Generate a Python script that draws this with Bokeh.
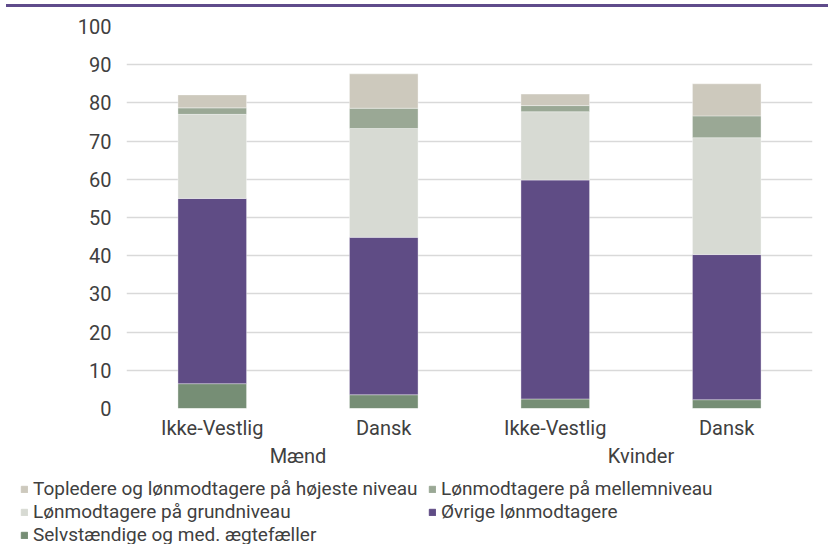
from bokeh.plotting import figure
from bokeh.models import (ColumnDataSource, FactorRange, Range1d, Legend, LegendItem,
                          Div, SingleIntervalTicker)
from bokeh.layouts import column
from bokeh.embed import file_html
from bokeh.resources import INLINE

groups = ["Mænd", "Mænd", "Kvinder", "Kvinder"]
origins = ["Ikke-Vestlig", "Dansk", "Ikke-Vestlig", "Dansk"]
selvstaendige = [6.5, 3.6, 2.5, 2.3]
oevrige = [48.5, 41.2, 57.3, 38.0]
grundniveau = [22.0, 28.5, 17.9, 30.6]
mellemniveau = [1.7, 5.3, 1.6, 5.7]
topledere = [3.4, 9.0, 3.0, 8.4]

series = ["selv", "oevrige", "grund", "mellem", "top"]
labels = {
    "top": "Topledere og lønmodtagere på højeste niveau",
    "mellem": "Lønmodtagere på mellemniveau",
    "grund": "Lønmodtagere på grundniveau",
    "oevrige": "Øvrige lønmodtagere",
    "selv": "Selvstændige og med. ægtefæller",
}
colors = ["#768e75", "#5f4c85", "#d7dad3", "#9aa895", "#cdc9bd"]
cmap = dict(zip(series, colors))

FONT = "Roboto"
TXT = "#404040"

factors = list(zip(groups, origins))
source = ColumnDataSource(dict(x=factors, selv=selvstaendige, oevrige=oevrige,
                               grund=grundniveau, mellem=mellemniveau, top=topledere))

p = figure(x_range=FactorRange(*factors, range_padding=0, group_padding=0, factor_padding=0),
           y_range=Range1d(0, 100), width=828, height=471,
           output_backend="svg", toolbar_location=None, margin=0,
           min_border_left=126, min_border_right=16, min_border_top=19, min_border_bottom=70)
p.outline_line_color = None

p.vbar_stack(series, x="x", width=0.4, source=source, color=colors,
             line_color="white", line_width=0.6, line_alpha=0.6)

p.xgrid.grid_line_color = None
p.ygrid.grid_line_color = "#d9d9d9"
p.ygrid.grid_line_width = 1.5
p.yaxis.ticker = SingleIntervalTicker(interval=10)
p.yaxis.axis_line_color = None
p.yaxis.major_tick_line_color = None
p.yaxis.minor_tick_line_color = None
p.yaxis.major_tick_out = 0
p.yaxis.major_label_text_font = FONT
p.yaxis.major_label_text_font_size = "20px"
p.yaxis.major_label_text_color = TXT
p.yaxis.major_label_standoff = 11

xa = p.xaxis[0]
xa.axis_line_color = None
xa.major_tick_line_color = None
xa.minor_tick_line_color = None
xa.major_label_text_font = FONT
xa.major_label_text_font_size = "20px"
xa.major_label_text_color = TXT
xa.group_text_font = FONT
xa.group_text_font_size = "20px"
xa.group_text_color = TXT
xa.group_text_font_style = "normal"
xa.major_label_standoff = 1
try:
    xa.separator_line_color = None
except Exception:
    pass

# legend figure
p2 = figure(width=828, height=66, x_range=Range1d(0, 1), y_range=Range1d(0, 1),
            output_backend="svg", toolbar_location=None, margin=0,
            x_axis_type=None, y_axis_type=None,
            min_border_left=0, min_border_right=0, min_border_top=0, min_border_bottom=0)
p2.frame_align = False
p2.outline_line_color = None
p2.grid.visible = False
order = ["top", "mellem", "grund", "oevrige", "selv"]
items = []
for k in order:
    r = p2.vbar(x=[-10], top=[0], width=0.1, color=cmap[k])
    items.append(LegendItem(label=labels[k], renderers=[r]))
legend = Legend(items=items, location=(20, -2), ncols=2, orientation="horizontal",
                glyph_width=8, glyph_height=8, label_standoff=5, label_height=21,
                label_width=395, spacing=0, padding=0, margin=0, border_line_color=None,
                background_fill_alpha=0, label_text_font=FONT,
                label_text_font_size="19px", label_text_color=TXT)
p2.add_layout(legend, "center")

bar = Div(text="", width=822, height=3, margin=(4, 0, 0, 6),
          styles={"background-color": "#5f4b8b"})

layout = column(bar, p, p2, spacing=0)
open("out.html", "w").write(file_html(layout, INLINE))
